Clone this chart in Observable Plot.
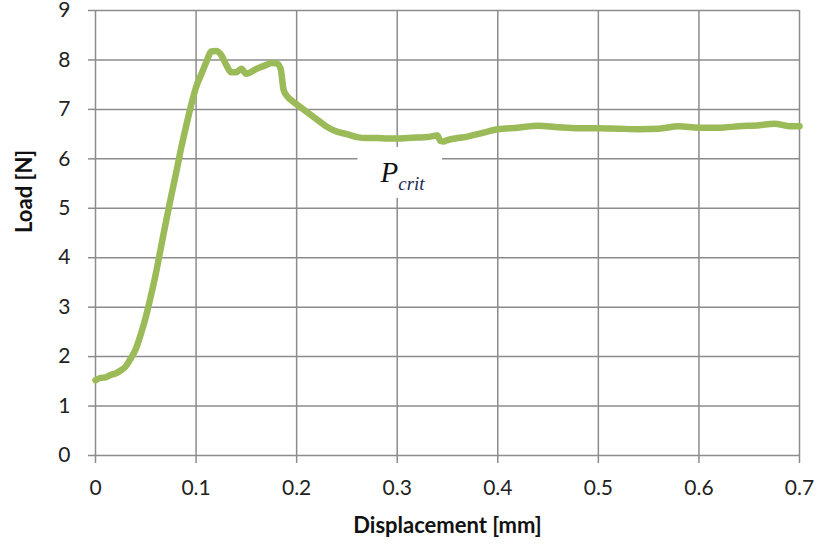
<!DOCTYPE html>
<html>
<head>
<meta charset="utf-8">
<script src="https://cdn.jsdelivr.net/npm/d3@7"></script>
<script src="https://cdn.jsdelivr.net/npm/@observablehq/plot@0.6"></script>
<style>
  html, body { margin: 0; padding: 0; background: #fff; }
  #chart svg { display: block; }
</style>
</head>
<body>
<div id="chart"></div>
<script>
// Displacement [mm]
const displacement = [0, 0.005, 0.01, 0.015, 0.02, 0.025, 0.03, 0.035, 0.04, 0.045,
  0.05, 0.055, 0.06, 0.065, 0.07, 0.075, 0.08, 0.085, 0.09, 0.095,
  0.1, 0.105, 0.11, 0.115, 0.12, 0.125, 0.13, 0.135, 0.14, 0.145,
  0.15, 0.155, 0.16, 0.165, 0.17, 0.175, 0.18, 0.184, 0.187, 0.19,
  0.195, 0.2, 0.21, 0.22, 0.23, 0.24, 0.25, 0.26, 0.27, 0.28,
  0.29, 0.3, 0.31, 0.32, 0.33, 0.34, 0.343, 0.346, 0.35, 0.36,
  0.37, 0.38, 0.39, 0.4, 0.42, 0.44, 0.46, 0.48, 0.5, 0.52,
  0.54, 0.56, 0.58, 0.6, 0.62, 0.64, 0.66, 0.675, 0.69, 0.7];
// Load [N]
const load = [1.52, 1.57, 1.58, 1.63, 1.66, 1.72, 1.8, 1.96, 2.15, 2.45,
  2.8, 3.22, 3.68, 4.2, 4.72, 5.22, 5.7, 6.2, 6.65, 7.08,
  7.45, 7.7, 7.95, 8.17, 8.18, 8.1, 7.9, 7.75, 7.75, 7.82,
  7.72, 7.76, 7.82, 7.86, 7.9, 7.94, 7.93, 7.83, 7.4, 7.28,
  7.18, 7.1, 6.95, 6.8, 6.65, 6.55, 6.5, 6.44, 6.42, 6.42,
  6.41, 6.41, 6.42, 6.43, 6.44, 6.47, 6.36, 6.35, 6.38, 6.42,
  6.45, 6.5, 6.55, 6.6, 6.63, 6.67, 6.64, 6.62, 6.62, 6.61,
  6.6, 6.61, 6.66, 6.63, 6.63, 6.66, 6.68, 6.71, 6.66, 6.66];

const xTicks = [0, 0.1, 0.2, 0.3, 0.4, 0.5, 0.6, 0.7];
const yTicks = [0, 1, 2, 3, 4, 5, 6, 7, 8, 9];
const xTitle = "Displacement [mm]";
const yTitle = "Load [N]";
const annotation = [{x: 0.3, y: 5.62, main: "P", sub: "crit"}];

const data = displacement.map((x, i) => ({x, y: load[i]}));
const font = "Lato, 'Open Sans', sans-serif";
const grid = "#8c8c8c";

const chart = Plot.plot({
  width: 818,
  height: 546,
  marginLeft: 95,
  marginRight: 19,
  marginTop: 10,
  marginBottom: 91,
  x: {domain: [0, 0.7]},
  y: {domain: [0, 9]},
  style: {fontFamily: font, background: "#fff"},
  marks: [
    Plot.gridX(xTicks, {stroke: grid, strokeOpacity: 1, strokeWidth: 1.5}),
    Plot.gridY(yTicks, {stroke: grid, strokeOpacity: 1, strokeWidth: 1.5}),
    Plot.axisX(xTicks, {tickSize: 8, tickPadding: 17, stroke: grid, strokeWidth: 1.5,
      fontSize: 21, fill: "#222", label: null, tickFormat: d => String(d)}),
    Plot.axisY(yTicks, {tickSize: 7, tickPadding: 18, stroke: grid, strokeWidth: 1.5,
      fontSize: 21, fill: "#222", label: null, tickFormat: d => String(d)}),
    Plot.rect(annotation, {x1: d => d.x - 0.039, x2: d => d.x + 0.045,
      y1: d => d.y - 0.42, y2: d => d.y + 0.61, fill: "#fff"}),
    Plot.line(data, {x: "x", y: "y", stroke: "#9bbb59", strokeWidth: 6.5,
      curve: "monotone-x", strokeLinejoin: "round", strokeLinecap: "round"}),
    Plot.text(annotation, {x: "x", y: "y", text: "main", textAnchor: "end", dx: 1, dy: -5,
      fontFamily: "'Liberation Serif', 'DejaVu Serif', serif", fontStyle: "italic",
      fontSize: 29, fill: "#111", lineAnchor: "middle"}),
    Plot.text(annotation, {x: "x", y: "y", text: "sub", textAnchor: "start", dx: 1, dy: 6,
      fontFamily: "'Liberation Serif', 'DejaVu Serif', serif", fontStyle: "italic",
      fontSize: 19, fill: "#1c2a55", lineAnchor: "middle"}),
    Plot.text([xTitle], {frameAnchor: "bottom", dy: 70, text: d => d, fontSize: 22,
      fontWeight: "bold", fill: "#111", lineAnchor: "middle"}),
    Plot.text([yTitle], {frameAnchor: "left", dx: -71, text: d => d, fontSize: 22,
      fontWeight: "bold", fill: "#111", rotate: -90, lineAnchor: "middle"})
  ]
});
document.getElementById("chart").appendChild(chart);
</script>
</body>
</html>
